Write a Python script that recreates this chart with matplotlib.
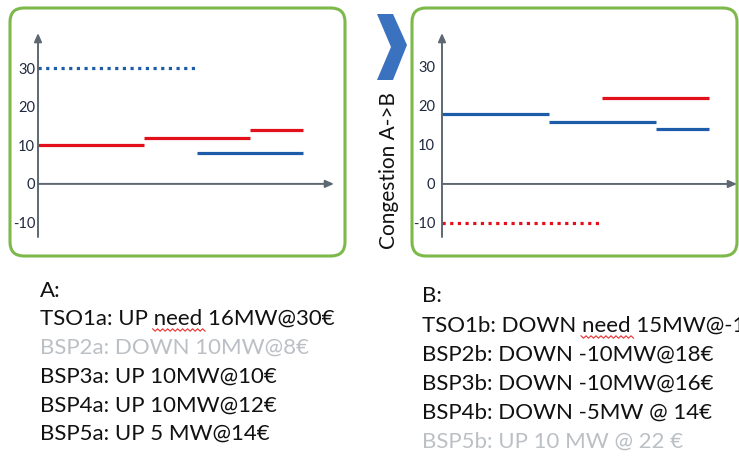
import numpy as np
import matplotlib.pyplot as plt
from matplotlib.patches import FancyBboxPatch, Polygon

W, H = 739, 467

# ---- data (x in MW, y in EUR) ----
ticks = [-10, 0, 10, 20, 30]

# market A
a_up_start = [0, 10, 20]
a_up_end = [10, 20, 25]
a_up_price = [10, 12, 14]
a_down_start = [15]
a_down_end = [25]
a_down_price = [8]
a_need_start = [0]
a_need_end = [15]
a_need_price = [30]

# market B
b_down_start = [0, 10, 20]
b_down_end = [10, 20, 25]
b_down_price = [18, 16, 14]
b_up_start = [15]
b_up_end = [25]
b_up_price = [22]
b_need_start = [0]
b_need_end = [15]
b_need_price = [-10]

text_a = ["A:", "TSO1a: UP need 16MW@30€", "BSP2a: DOWN 10MW@8€",
          "BSP3a: UP 10MW@10€", "BSP4a: UP 10MW@12€", "BSP5a: UP 5 MW@14€"]
text_b = ["B:", "TSO1b: DOWN need 15MW@-10€", "BSP2b: DOWN -10MW@18€",
          "BSP3b: DOWN -10MW@16€", "BSP4b: DOWN -5MW @ 14€", "BSP5b: UP 10 MW @ 22 €"]
grey_a = [2]
grey_b = [5]

RED = "#e3101b"
BLUE = "#1d5ca8"
GREEN = "#7cb84a"
AXC = "#5d6872"
GREY = "#bcc0c4"

plt.rcParams["font.family"] = ["Lato", "DejaVu Sans"]

fig = plt.figure(figsize=(W / 100, H / 100), dpi=100)
bg = fig.add_axes([0, 0, 1, 1])
bg.set_xlim(0, W)
bg.set_ylim(H, 0)
bg.axis("off")

# green rounded frames
for x0, y0, x1, y1 in [(10, 8, 345, 256), (412, 8, 737, 256)]:
    bg.add_patch(FancyBboxPatch((x0 + 14, y0 + 14), x1 - x0 - 28, y1 - y0 - 28,
                                boxstyle="round,pad=14", fc="none", ec=GREEN, lw=2.2))

# chevron
bg.add_patch(Polygon([(377, 14), (393, 14), (407, 45), (393, 80), (377, 80), (391, 47)],
                     closed=True, fc="#3a72c0", ec="none"))
bg.text(389, 171, "Congestion A->B", rotation=90, ha="center", va="center",
        fontsize=15, color="#111111")

# text lists
base_a = [297, 325, 354, 383, 412, 440]
base_b = [302, 332, 361, 390, 419, 448]
for i, t in enumerate(text_a):
    bg.text(40, base_a[i], t, fontsize=16, va="baseline",
            color=GREY if i in grey_a else "#111111")
for i, t in enumerate(text_b):
    bg.text(422, base_b[i], t, fontsize=16, va="baseline",
            color=GREY if i in grey_b else "#111111", clip_on=True)

# spell-check squiggles under "need" (measured from the rendered text)
renderer = fig.canvas.get_renderer()


def text_width(s):
    t = bg.text(0, 0, s, fontsize=16)
    w = t.get_window_extent(renderer).width
    t.remove()
    return w


for x_left, y, line in [(40, base_a[1] + 5, text_a[1]), (422, base_b[1] + 5, text_b[1])]:
    pre = line.split("need")[0]
    x0 = x_left + text_width(pre.rstrip() + " ") - 1
    x1 = x_left + text_width(pre + "need") + 2
    xs = np.arange(x0, x1 + 1, 2.5)
    ys = y + np.where(np.arange(len(xs)) % 2 == 0, -1.2, 1.2)
    bg.plot(xs, ys, color="#e83030", lw=0.8)


def chart(left_px, right_px, xmax, ymin, ymax, label_pad):
    ax = fig.add_axes([left_px / W, 1 - 237 / H, (right_px - left_px) / W, (237 - 33) / H])
    ax.set_xlim(0, xmax)
    ax.set_ylim(ymin, ymax)
    ax.patch.set_alpha(0)
    for s in ax.spines.values():
        s.set_visible(False)
    ax.set_xticks([])
    ax.set_yticks(ticks)
    ax.set_yticklabels([str(t) for t in ticks], fontsize=10.5, color="#1f2840")
    ax.tick_params(axis="y", length=0, pad=label_pad)
    ap = dict(arrowstyle="-|>,head_length=0.5,head_width=0.22", color=AXC, lw=1.4,
              shrinkA=0, shrinkB=0)
    ax.annotate("", xy=(0, ymax), xytext=(0, ymin), arrowprops=ap, annotation_clip=False)
    ax.annotate("", xy=(xmax, 0), xytext=(0, 0), arrowprops=ap, annotation_clip=False)
    return ax


ax_a = chart(38, 334, 27.9, -13.8, 39.2, 2)
ax_a.hlines(a_need_price, a_need_start, a_need_end, colors=BLUE, lw=2.3,
            linestyles=(0, (1, 1.4)))
ax_a.hlines(a_up_price, a_up_start, a_up_end, colors=RED, lw=2.3)
ax_a.hlines(a_down_price, a_down_start, a_down_end, colors=BLUE, lw=2.3)

ax_b = chart(442, 737, 27.6, -13.6, 38.7, 5)
ax_b.hlines(b_need_price, b_need_start, b_need_end, colors=RED, lw=2.3,
            linestyles=(0, (1, 1.4)))
ax_b.hlines(b_down_price, b_down_start, b_down_end, colors=BLUE, lw=2.3)
ax_b.hlines(b_up_price, b_up_start, b_up_end, colors=RED, lw=2.3)

fig.savefig("out.png", dpi=100)
